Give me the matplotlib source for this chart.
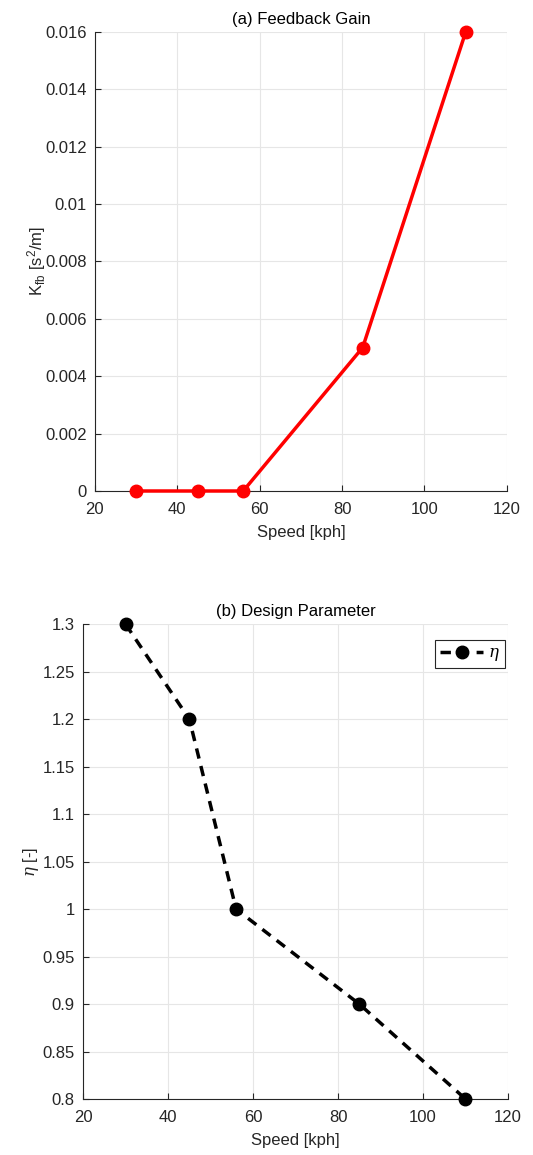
import matplotlib.pyplot as plt

plt.rcParams.update({"font.family": ["Liberation Sans", "DejaVu Sans"],
                     "mathtext.fontset": "custom",
                     "mathtext.rm": "Liberation Sans",
                     "mathtext.it": "DejaVu Serif:italic",
                     "font.size": 12})

speed = [30, 45, 56, 85, 110]
k_fb = [0.0, 0.0, 0.0, 0.005, 0.016]
eta = [1.3, 1.2, 1.0, 0.9, 0.8]

x_ticks = [20, 40, 60, 80, 100, 120]
k_ticks = [0, 0.002, 0.004, 0.006, 0.008, 0.01, 0.012, 0.014, 0.016]
k_labels = ["0", "0.002", "0.004", "0.006", "0.008", "0.01",
            "0.012", "0.014", "0.016"]
eta_ticks = [0.8, 0.85, 0.9, 0.95, 1.0, 1.05, 1.1, 1.15, 1.2, 1.25, 1.3]
eta_labels = ["0.8", "0.85", "0.9", "0.95", "1", "1.05", "1.1",
              "1.15", "1.2", "1.25", "1.3"]

dark = "#262626"

fig = plt.figure(figsize=(5.33, 11.55), dpi=100)
ax1 = fig.add_axes([0.178, 0.5749, 0.773, 0.3974])
ax2 = fig.add_axes([0.156, 0.0485, 0.797, 0.411])

ax1.plot(speed, k_fb, "-o", color="red", lw=2.5, ms=9, clip_on=False,
         zorder=5)
ax1.set_xlim(20, 120)
ax1.set_ylim(0, 0.016)
ax1.set_yticks(k_ticks, k_labels)
ax1.set_title("(a) Feedback Gain", fontsize=12, color="black", pad=6)
ax1.set_xlabel("Speed [kph]", color=dark, labelpad=6)
ax1.set_ylabel(r"K$_{\mathrm{fb}}$ [s$^{\mathrm{2}}$/m]", color=dark,
               labelpad=-2)

ax2.plot(speed, eta, "--o", color="black", lw=2.5, ms=9,
         dashes=(3, 2.2), label=r"$\eta$", clip_on=False, zorder=5)
ax2.set_xlim(20, 120)
ax2.set_ylim(0.8, 1.3)
ax2.set_yticks(eta_ticks, eta_labels)
ax2.set_title("(b) Design Parameter", fontsize=12, color="black", pad=6)
ax2.set_xlabel("Speed [kph]", color=dark, labelpad=6)
ax2.set_ylabel(r"$\eta$ [-]", color=dark, labelpad=1)
leg = ax2.legend(loc="upper right", fancybox=False, edgecolor=dark,
                 framealpha=1, handlelength=2.6, borderpad=0.3,
                 handletextpad=0.3, borderaxespad=0,
                 bbox_to_anchor=(0.993, 0.966))
leg.get_frame().set_linewidth(0.8)

for ax in (ax1, ax2):
    ax.set_xticks(x_ticks)
    ax.grid(True, color="#e6e6e6", lw=0.8)
    ax.set_axisbelow(True)
    ax.spines["top"].set_visible(False)
    ax.spines["right"].set_visible(False)
    for s in ("left", "bottom"):
        ax.spines[s].set_color(dark)
        ax.spines[s].set_linewidth(0.8)
    ax.tick_params(direction="in", length=4, width=0.8, colors=dark,
                   labelcolor=dark, labelsize=12)
    ax.tick_params(axis="x", pad=8)
    ax.tick_params(axis="y", pad=6)

fig.savefig("out.png", dpi=100)
